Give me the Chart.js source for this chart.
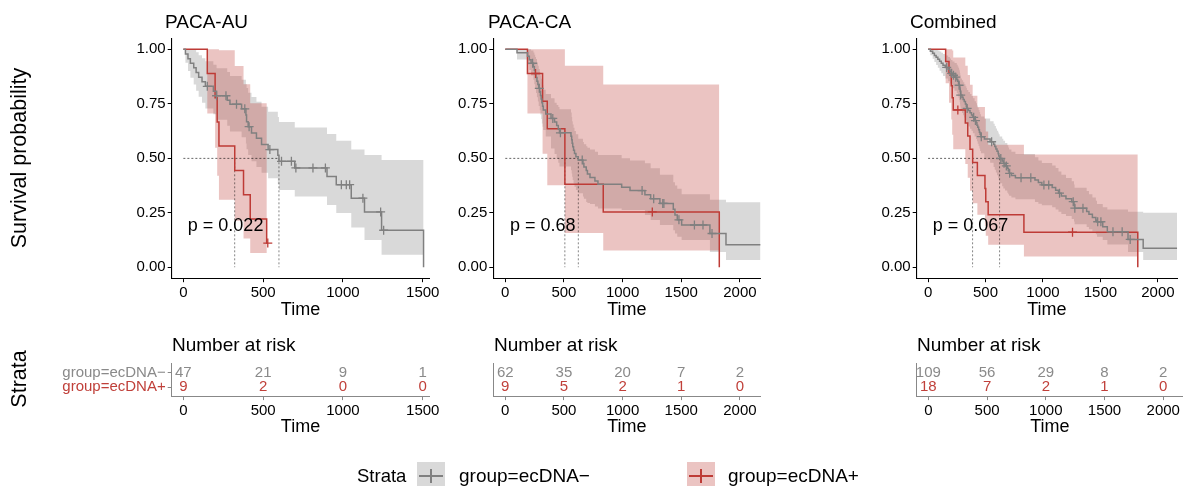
<!DOCTYPE html>
<html><head><meta charset="utf-8">
<script src="https://cdn.jsdelivr.net/npm/chart.js@4.4.1/dist/chart.umd.min.js"></script>
<style>
html,body{margin:0;padding:0;background:#fff}
body{width:1183px;height:486px;position:relative;overflow:hidden;font-family:"Liberation Sans",Arial,Helvetica,sans-serif;color:#000}
canvas{position:absolute;left:0;top:0}
.t{position:absolute;white-space:nowrap}
.rot{position:absolute;white-space:nowrap;transform:translate(-50%,-50%) rotate(-90deg)}
.key{position:absolute;width:28px;height:28px}
.key .h{position:absolute;left:2px;right:2px;top:13px;height:2.4px}
.key .v{position:absolute;top:7px;bottom:7px;left:13px;width:2.4px}
</style></head><body>
<canvas id="km0" width="1183" height="486"></canvas>
<canvas id="km1" width="1183" height="486"></canvas>
<canvas id="km2" width="1183" height="486"></canvas>
<canvas id="rt0" width="1183" height="486"></canvas>
<canvas id="rt1" width="1183" height="486"></canvas>
<canvas id="rt2" width="1183" height="486"></canvas>

<div class="t" style="left:165px;top:10px;font-size:19px;line-height:24px">PACA-AU</div>
<div class="t" style="left:488px;top:10px;font-size:19px;line-height:24px">PACA-CA</div>
<div class="t" style="left:910px;top:10px;font-size:19px;line-height:24px">Combined</div>
<div class="rot" style="left:19px;top:158px;font-size:21.5px">Survival probability</div>
<div class="rot" style="left:19px;top:379px;font-size:21.5px">Strata</div>
<div class="t" style="left:172px;top:333px;font-size:19px;line-height:24px">Number at risk</div>
<div class="t" style="left:494px;top:333px;font-size:19px;line-height:24px">Number at risk</div>
<div class="t" style="left:917px;top:333px;font-size:19px;line-height:24px">Number at risk</div>

<div class="t" style="left:357px;top:464px;font-size:18.5px;line-height:24px">Strata</div>
<div class="key" style="left:417px;top:462px;background:rgba(128,128,128,0.3)"><div class="h" style="background:#808080"></div><div class="v" style="background:#808080"></div></div>
<div class="t" style="left:459px;top:464px;font-size:19px;line-height:24px">group=ecDNA−</div>
<div class="key" style="left:687px;top:462px;background:rgba(190,59,54,0.3)"><div class="h" style="background:#BE3B36"></div><div class="v" style="background:#BE3B36"></div></div>
<div class="t" style="left:728px;top:464px;font-size:19px;line-height:24px">group=ecDNA+</div>

<script>
// ---------------- DATA ----------------
const strata = ['group=ecDNA−', 'group=ecDNA+'];
const yTicks = [0, 0.25, 0.5, 0.75, 1];
const xTicksAU = [0, 500, 1000, 1500];
const xTicksCA = [0, 500, 1000, 1500, 2000];
const xTicksCO = [0, 500, 1000, 1500, 2000];

// PACA-AU, ecDNA−
const auNegT  = [0,13,29,44,65,80,96,117,138,188,208,275,292,365,392,396,406,427,458,490,531,592,599,698,900,958,1052,1135,1242,1505];
const auNegS  = [1,.979,.957,.936,.915,.894,.872,.851,.830,.807,.787,.766,.748,.727,.699,.668,.645,.616,.592,.563,.540,.514,.486,.456,.417,.379,.317,.254,.170,0];
const auNegLo = [1,.938,.901,.869,.839,.810,.782,.755,.729,.702,.677,.649,.623,.596,.568,.541,.515,.487,.460,.434,.408,.381,.355,.325,.286,.249,.182,.125,.058,0];
const auNegHi = [1,1,1,1,.998,.987,.973,.959,.945,.929,.913,.896,.878,.860,.841,.822,.801,.781,.759,.736,.714,.690,.666,.641,.612,.581,.540,.515,.492,0];
const auNegCensT = [150,208,267,333,385,412,542,615,677,705,812,890,990,1021,1042,1125,1236,1255];
const auNegCensS = [.830,.787,.787,.748,.727,.645,.540,.486,.486,.456,.456,.456,.379,.379,.379,.317,.254,.170];
// PACA-AU, ecDNA+
const auPosT  = [0,150,199,212,223,322,377,419,522,529];
const auPosS  = [1,.889,.778,.667,.556,.444,.333,.222,.111,.111];
const auPosLo = [1,.706,.548,.420,.310,.214,.132,.066,.111,.111];
const auPosHi = [1,1,1,1,.996,.923,.840,.753,.111,.111];
const auPosCensT = [529];
const auPosCensS = [.111];
const auMedian = [599, 322];
const auP = 'p = 0.022';

// PACA-CA, ecDNA−
const caNegT  = [0,100,190,205,220,240,248,255,262,270,278,285,294,300,306,312,318,324,345,390,420,438,452,462,560,566,570,575,582,590,602,622,662,670,690,700,722,764,790,992,1063,1190,1239,1318,1432,1446,1466,1503,1744,1881,2176];
const caNegS  = [1,.984,.968,.952,.936,.920,.904,.887,.871,.854,.838,.821,.805,.788,.772,.755,.739,.722,.703,.683,.666,.650,.633,.617,.601,.585,.569,.553,.537,.522,.507,.492,.476,.460,.444,.428,.412,.396,.381,.367,.352,.333,.315,.293,.266,.240,.218,.194,.155,.103,.103];
const caNegLo = [1,.953,.930,.905,.880,.860,.840,.820,.800,.780,.760,.740,.720,.700,.680,.660,.645,.630,.600,.545,.520,.500,.480,.462,.445,.430,.415,.400,.385,.370,.355,.340,.325,.315,.300,.295,.290,.279,.270,.263,.263,.240,.217,.194,.170,.155,.140,.125,.070,.033,.103];
const caNegHi = [1,1,1,1,.995,.985,.975,.965,.955,.940,.925,.910,.895,.880,.865,.850,.835,.815,.795,.775,.755,.745,.735,.725,.710,.690,.670,.655,.640,.625,.610,.590,.575,.565,.555,.548,.540,.530,.515,.500,.490,.477,.454,.425,.390,.375,.360,.335,.310,.298,.103];
const caNegCensT = [233,290,405,470,656,1166,1265,1342,1352,1480,1612,1685,1762];
const caNegCensS = [.936,.821,.683,.617,.492,.352,.315,.293,.293,.218,.194,.194,.155];
// PACA-CA, ecDNA+
const caPosT  = [0,189,318,358,508,835,1824];
const caPosS  = [1,.889,.762,.635,.381,.254,0];
const caPosLo = [1,.706,.521,.376,.157,.077,0];
const caPosHi = [1,1,1,1,.924,.839,0];
const caPosCensT = [258,1253];
const caPosCensS = [.889,.254];
const caMedian = [622, 508];
const caP = 'p = 0.68';

// Combined, ecDNA−
const coNegT  = [0,20,40,55,70,85,100,115,130,150,175,190,200,212,230,250,258,265,270,275,278,280,283,284,295,305,315,325,333,338,350,365,378,390,405,418,425,432,440,447,453,460,490,540,570,580,590,600,610,615,623,645,655,670,690,698,705,725,760,930,960,990,1080,1110,1135,1160,1200,1250,1270,1275,1380,1400,1430,1460,1470,1520,1560,1740,1872,2168];
const coNegS  = [1,.991,.982,.972,.963,.954,.945,.936,.927,.917,.908,.899,.890,.881,.872,.862,.853,.844,.835,.826,.817,.808,.799,.790,.780,.770,.760,.749,.739,.729,.719,.709,.699,.688,.673,.663,.652,.642,.631,.620,.610,.599,.588,.576,.565,.554,.543,.532,.521,.510,.499,.488,.477,.465,.454,.443,.431,.421,.411,.400,.389,.378,.366,.353,.340,.327,.314,.301,.286,.271,.256,.243,.229,.216,.209,.186,.163,.128,.087,.087];
const coNegLo = [1,.973,.957,.942,.928,.915,.902,.890,.878,.866,.854,.843,.832,.821,.810,.799,.788,.778,.768,.758,.748,.738,.728,.718,.708,.698,.687,.676,.666,.656,.646,.636,.626,.615,.600,.589,.578,.567,.556,.545,.534,.523,.495,.480,.460,.447,.435,.422,.410,.400,.385,.372,.362,.352,.342,.335,.328,.320,.312,.300,.292,.285,.275,.265,.255,.245,.235,.222,.210,.197,.185,.175,.164,.152,.140,.125,.105,.070,.033,.087];
const coNegHi = [1,1,1,1,1,.995,.990,.984,.978,.972,.965,.958,.951,.944,.937,.929,.921,.914,.906,.898,.890,.882,.874,.866,.858,.849,.840,.831,.822,.813,.804,.795,.786,.776,.762,.752,.742,.732,.722,.712,.702,.692,.682,.670,.659,.648,.637,.626,.618,.610,.600,.590,.580,.570,.560,.550,.540,.530,.520,.505,.490,.478,.467,.455,.440,.425,.410,.395,.380,.365,.350,.335,.320,.305,.290,.275,.265,.255,.250,.087];
const coNegCensT = [162,205,221,241,270,284,340,397,412,463,553,633,661,681,710,809,894,1008,1050,1144,1263,1277,1348,1476,1504,1609,1689,1759];
const coNegCensS = [.917,.890,.881,.872,.835,.790,.729,.688,.673,.599,.576,.499,.477,.465,.431,.411,.411,.378,.378,.340,.301,.271,.271,.209,.209,.163,.163,.128];
// Combined, ecDNA+
const coPosT  = [0,153,182,202,210,219,324,345,365,388,429,495,502,523,834,1825];
const coPosS  = [1,.944,.889,.833,.778,.722,.662,.602,.542,.481,.421,.361,.301,.241,.161,0];
const coPosLo = [1,.844,.755,.678,.608,.542,.474,.411,.351,.294,.241,.191,.145,.103,.050,0];
const coPosHi = [1,1,1,1,.995,.962,.924,.882,.837,.787,.735,.681,.623,.562,.517,0];
const coPosCensT = [259,1257];
const coPosCensS = [.722,.161];
const coMedian = [623, 388];
const coP = 'p = 0.067';

// Number at risk
const riskTimesAU = [0, 500, 1000, 1500];
const riskAUNeg = [47, 21, 9, 1];
const riskAUPos = [9, 2, 0, 0];
const riskTimesCA = [0, 500, 1000, 1500, 2000];
const riskCANeg = [62, 35, 20, 7, 2];
const riskCAPos = [9, 5, 2, 1, 0];
const riskTimesCO = [0, 500, 1000, 1500, 2000];
const riskCONeg = [109, 56, 29, 8, 2];
const riskCOPos = [18, 7, 2, 1, 0];

// ---------------- STYLE ----------------
const FONT = '"Liberation Sans", Arial, Helvetica, sans-serif';
Chart.defaults.font.family = FONT;
Chart.defaults.color = '#000';
const GRAY = '#808080', RED = '#BE3B36';
const GRAY_FILL = 'rgba(128,128,128,0.3)', RED_FILL = 'rgba(190,59,54,0.3)';
const GRAY_TXT = '#8A8A8A', RED_TXT = '#C0403A';
const W = 1183, H = 486;
const KM_TOP = 38.4, KM_BOT = 278.2, RT_TOP = 363.9, RT_BOT = 396.1;

const pts = (t, v) => t.map((x, i) => ({x: x, y: v[i]}));

const textPlugin = {
  id: 'textPlugin',
  afterDatasetsDraw(chart) {
    const ctx = chart.ctx;
    chart.data.datasets.forEach((ds, i) => {
      if (!ds.texts) return;
      const meta = chart.getDatasetMeta(i);
      ctx.save();
      ctx.font = ds.textFont;
      ctx.fillStyle = ds.textColor;
      ctx.textAlign = ds.textAlign || 'center';
      ctx.textBaseline = 'middle';
      meta.data.forEach((el, j) => ctx.fillText(ds.texts[j], el.x, el.y));
      ctx.restore();
    });
  }
};

function xScale(xmin, xmax, ticks, h) {
  return {
    type: 'linear', min: xmin, max: xmax,
    afterBuildTicks: s => { s.ticks = ticks.map(v => ({value: v})); },
    afterFit: s => { s.height = h; s.paddingLeft = 0; s.paddingRight = 0; },
    ticks: {font: {size: 15}, padding: 2, maxRotation: 0, autoSkip: false, callback: v => String(v)},
    grid: {display: true, drawOnChartArea: false, drawTicks: true, tickLength: 4, color: '#000', lineWidth: 1},
    border: {display: true, color: '#000', width: 1.1},
    title: {display: true, text: 'Time', font: {size: 18}, padding: {top: 0, bottom: 0}}
  };
}

function kmChart(id, area, xr, xTicks, neg, pos, med, pText, pX) {
  const yW = 60, xH = 42.6;
  const mMax = Math.max(med[0], med[1]);
  const ds = [
    {type: 'line', data: pts(neg.ct, neg.cs), showLine: false, pointStyle: 'cross', pointRadius: 4.5, borderColor: GRAY, borderWidth: 1.3, order: 0},
    {type: 'line', data: pts(pos.ct, pos.cs), showLine: false, pointStyle: 'cross', pointRadius: 4.5, borderColor: RED, borderWidth: 1.3, order: 0},
    {type: 'line', data: pts(neg.t, neg.s), stepped: true, borderColor: GRAY, borderWidth: 1.5, pointRadius: 0, fill: false, order: 1},
    {type: 'line', data: pts(pos.t, pos.s), stepped: true, borderColor: RED, borderWidth: 1.5, pointRadius: 0, fill: false, order: 1},
    {type: 'line', data: [{x: 0, y: 0.5}, {x: mMax, y: 0.5}], borderColor: 'rgba(0,0,0,0.75)', borderWidth: 0.8, borderDash: [2, 2], pointRadius: 0, fill: false, order: 2},
    {type: 'line', data: [{x: med[0], y: 0.5}, {x: med[0], y: 0}], borderColor: 'rgba(0,0,0,0.6)', borderWidth: 0.8, borderDash: [2, 2], pointRadius: 0, fill: false, order: 2},
    {type: 'line', data: [{x: med[1], y: 0.5}, {x: med[1], y: 0}], borderColor: 'rgba(0,0,0,0.6)', borderWidth: 0.8, borderDash: [2, 2], pointRadius: 0, fill: false, order: 2},
    {type: 'line', data: pts(pos.t, pos.hi), stepped: true, borderWidth: 0, borderColor: 'transparent', pointRadius: 0, fill: false, order: 5},
    {type: 'line', data: pts(pos.t, pos.lo), stepped: true, borderWidth: 0, borderColor: 'transparent', pointRadius: 0, fill: '-1', backgroundColor: RED_FILL, order: 5},
    {type: 'line', data: pts(neg.t, neg.hi), stepped: true, borderWidth: 0, borderColor: 'transparent', pointRadius: 0, fill: false, order: 6},
    {type: 'line', data: pts(neg.t, neg.lo), stepped: true, borderWidth: 0, borderColor: 'transparent', pointRadius: 0, fill: '-1', backgroundColor: GRAY_FILL, order: 6},
    {type: 'line', data: [{x: pX, y: 0.19}], showLine: false, pointRadius: 0, texts: [pText], textFont: '18px ' + FONT, textColor: '#000', textAlign: 'left', order: 0}
  ];
  new Chart(document.getElementById(id), {
    type: 'line',
    data: {datasets: ds},
    plugins: [textPlugin],
    options: {
      responsive: false, animation: false, events: [],
      layout: {padding: {left: area[0] - yW, right: W - area[1], top: KM_TOP, bottom: H - KM_BOT - xH}},
      plugins: {legend: {display: false}, title: {display: false}, tooltip: {enabled: false}},
      scales: {
        x: xScale(xr[0], xr[1], xTicks, xH),
        y: {
          type: 'linear', min: -0.05, max: 1.05,
          afterBuildTicks: s => { s.ticks = yTicks.map(v => ({value: v})); },
          afterFit: s => { s.width = yW; s.paddingTop = 0; s.paddingBottom = 0; },
          ticks: {font: {size: 15}, padding: 2, callback: v => Number(v).toFixed(2)},
          grid: {display: true, drawOnChartArea: false, drawTicks: true, tickLength: 4, color: '#000', lineWidth: 1},
          border: {display: true, color: '#000', width: 1.1}
        }
      }
    }
  });
}

function riskChart(id, area, xr, xTicks, times, negVals, posVals, showLabels) {
  const yW = showLabels ? 168 : 60, xH = 41.8;
  const ds = [
    {type: 'line', data: pts(times, times.map(() => 2)), showLine: false, pointRadius: 0, texts: negVals.map(String), textFont: '15px ' + FONT, textColor: GRAY_TXT},
    {type: 'line', data: pts(times, times.map(() => 1)), showLine: false, pointRadius: 0, texts: posVals.map(String), textFont: '15px ' + FONT, textColor: RED_TXT}
  ];
  new Chart(document.getElementById(id), {
    type: 'line',
    data: {datasets: ds},
    plugins: [textPlugin],
    options: {
      responsive: false, animation: false, events: [],
      layout: {padding: {left: area[0] - yW, right: W - area[1], top: RT_TOP, bottom: H - RT_BOT - xH}},
      plugins: {legend: {display: false}, title: {display: false}, tooltip: {enabled: false}},
      scales: {
        x: Object.assign(xScale(xr[0], xr[1], xTicks, xH), {
          border: {display: true, color: '#888', width: 1},
          grid: {display: true, drawOnChartArea: false, drawTicks: true, tickLength: 4, color: '#888', lineWidth: 1}
        }),
        y: {
          type: 'linear', min: 0.4, max: 2.6,
          afterBuildTicks: s => { s.ticks = [1, 2].map(v => ({value: v})); },
          afterFit: s => { s.width = yW; s.paddingTop = 0; s.paddingBottom = 0; },
          ticks: {display: showLabels, font: {size: 15}, padding: 2,
            callback: v => (v === 2 ? strata[0] : strata[1]),
            color: c => (c.tick && c.tick.value === 2 ? GRAY_TXT : RED_TXT)},
          grid: {display: showLabels, drawOnChartArea: false, drawTicks: true, tickLength: 4, color: '#888', lineWidth: 1},
          border: {display: true, color: '#888', width: 1}
        }
      }
    }
  });
}

kmChart('km0', [171.7, 429.3], [-73, 1541], xTicksAU,
  {t: auNegT, s: auNegS, lo: auNegLo, hi: auNegHi, ct: auNegCensT, cs: auNegCensS},
  {t: auPosT, s: auPosS, lo: auPosLo, hi: auPosHi, ct: auPosCensT, cs: auPosCensS}, auMedian, auP, 28);
kmChart('km1', [493.3, 760.6], [-102, 2176], xTicksCA,
  {t: caNegT, s: caNegS, lo: caNegLo, hi: caNegHi, ct: caNegCensT, cs: caNegCensS},
  {t: caPosT, s: caPosS, lo: caPosLo, hi: caPosHi, ct: caPosCensT, cs: caPosCensS}, caMedian, caP, 40);
kmChart('km2', [916.7, 1183], [-99, 2168], xTicksCO,
  {t: coNegT, s: coNegS, lo: coNegLo, hi: coNegHi, ct: coNegCensT, cs: coNegCensS},
  {t: coPosT, s: coPosS, lo: coPosLo, hi: coPosHi, ct: coPosCensT, cs: coPosCensS}, coMedian, coP, 40);

riskChart('rt0', [171.7, 429.3], [-73, 1541], xTicksAU, riskTimesAU, riskAUNeg, riskAUPos, true);
riskChart('rt1', [493.3, 760.6], [-102, 2176], xTicksCA, riskTimesCA, riskCANeg, riskCAPos, false);
riskChart('rt2', [916.7, 1183], [-99, 2168], xTicksCO, riskTimesCO, riskCONeg, riskCOPos, false);
</script>
</body></html>
